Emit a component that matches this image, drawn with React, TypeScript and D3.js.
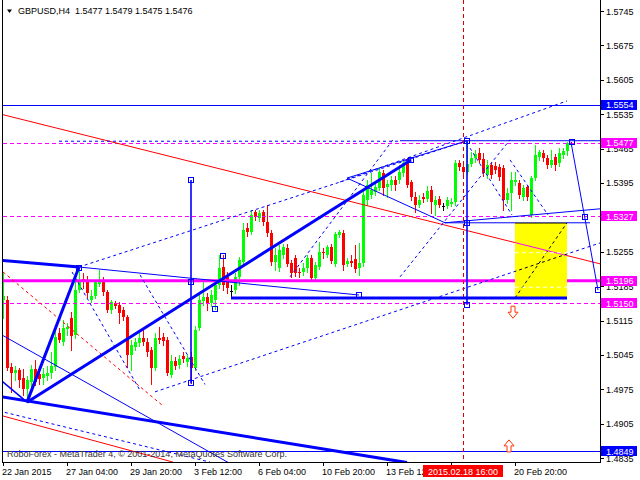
import React from "react";
import * as d3 from "d3";

// ---- Candle data (GBPUSD H4), bar 0 = 22 Jan 2015 12:00 ----
const OPEN = [1.5157,1.5157,1.5021,1.5009,1.5015,1.4999,1.4975,1.4989,1.5017,1.5007,1.4999,1.5003,1.5009,1.5021,1.5090,1.5072,1.5098,1.5120,1.5086,1.5177,1.5200,1.5198,1.5157,1.5165,1.5190,1.5198,1.5173,1.5137,1.5151,1.5147,1.5137,1.5122,1.5045,1.5061,1.5069,1.5080,1.5072,1.5055,1.5019,1.5080,1.5082,1.5076,1.5005,1.5033,1.5025,1.5043,1.5031,1.5041,1.5019,1.5100,1.5155,1.5163,1.5151,1.5157,1.5187,1.5224,1.5204,1.5175,1.5177,1.5204,1.5234,1.5304,1.5295,1.5336,1.5324,1.5336,1.5316,1.5293,1.5234,1.5222,1.5249,1.5263,1.5232,1.5242,1.5214,1.5214,1.5222,1.5242,1.5202,1.5224,1.5255,1.5249,1.5265,1.5230,1.5289,1.5293,1.5230,1.5236,1.5240,1.5222,1.5232,1.5360,1.5371,1.5377,1.5385,1.5415,1.5387,1.5391,1.5401,1.5401,1.5415,1.5438,1.5397,1.5367,1.5350,1.5367,1.5363,1.5381,1.5350,1.5363,1.5348,1.5348,1.5352,1.5356,1.5436,1.5428,1.5417,1.5434,1.5446,1.5456,1.5444,1.5411,1.5432,1.5430,1.5428,1.5426,1.5360,1.5375,1.5397,1.5395,1.5367,1.5387,1.5330,1.5405,1.5448,1.5456,1.5446,1.5432,1.5448,1.5436,1.5452,1.5460,1.5477];
const HIGH = [1.5214,1.5165,1.5029,1.5023,1.5019,1.5017,1.5003,1.5025,1.5035,1.5019,1.5019,1.5023,1.5051,1.5102,1.5100,1.5116,1.5110,1.5132,1.5198,1.5222,1.5212,1.5206,1.5177,1.5198,1.5218,1.5204,1.5177,1.5157,1.5155,1.5153,1.5143,1.5126,1.5076,1.5080,1.5090,1.5100,1.5080,1.5061,1.5090,1.5102,1.5090,1.5082,1.5045,1.5041,1.5045,1.5051,1.5045,1.5051,1.5104,1.5167,1.5194,1.5171,1.5177,1.5194,1.5249,1.5249,1.5214,1.5187,1.5212,1.5244,1.5314,1.5314,1.5340,1.5340,1.5340,1.5340,1.5350,1.5299,1.5263,1.5269,1.5271,1.5271,1.5238,1.5249,1.5222,1.5232,1.5249,1.5249,1.5234,1.5275,1.5263,1.5269,1.5271,1.5295,1.5299,1.5299,1.5242,1.5249,1.5269,1.5273,1.5381,1.5401,1.5415,1.5395,1.5426,1.5422,1.5401,1.5409,1.5409,1.5432,1.5442,1.5446,1.5401,1.5377,1.5371,1.5375,1.5389,1.5389,1.5369,1.5369,1.5354,1.5367,1.5365,1.5442,1.5442,1.5438,1.5481,1.5458,1.5462,1.5466,1.5456,1.5442,1.5438,1.5438,1.5434,1.5432,1.5385,1.5417,1.5417,1.5401,1.5391,1.5391,1.5409,1.5472,1.5462,1.5462,1.5452,1.5462,1.5454,1.5466,1.5466,1.5478,1.5479];
const LOW = [1.5120,1.5015,1.4970,1.4995,1.4979,1.4964,1.4949,1.4975,1.4983,1.4985,1.4985,1.4995,1.4999,1.5015,1.5072,1.5065,1.5086,1.5055,1.5080,1.5173,1.5181,1.5163,1.5153,1.5161,1.5185,1.5167,1.5132,1.5130,1.5141,1.5110,1.5116,1.5021,1.5015,1.5055,1.5063,1.5065,1.5043,1.4985,1.5015,1.5069,1.5065,1.5005,1.5001,1.5017,1.5019,1.5031,1.5023,1.4987,1.5015,1.5096,1.5147,1.5137,1.5145,1.5139,1.5181,1.5177,1.5171,1.5161,1.5171,1.5187,1.5228,1.5287,1.5291,1.5320,1.5318,1.5310,1.5287,1.5228,1.5218,1.5216,1.5242,1.5226,1.5204,1.5206,1.5204,1.5208,1.5214,1.5198,1.5198,1.5220,1.5242,1.5244,1.5232,1.5226,1.5285,1.5218,1.5226,1.5226,1.5214,1.5208,1.5226,1.5350,1.5365,1.5371,1.5381,1.5371,1.5367,1.5381,1.5381,1.5395,1.5409,1.5387,1.5360,1.5336,1.5346,1.5356,1.5358,1.5334,1.5330,1.5346,1.5340,1.5344,1.5348,1.5350,1.5422,1.5411,1.5413,1.5430,1.5438,1.5438,1.5409,1.5405,1.5405,1.5415,1.5401,1.5340,1.5354,1.5340,1.5391,1.5365,1.5360,1.5360,1.5326,1.5401,1.5442,1.5440,1.5426,1.5428,1.5422,1.5430,1.5446,1.5452,1.5475];
const CLOSE = [1.5165,1.5019,1.5009,1.5015,1.4995,1.4975,1.4995,1.5017,1.4989,1.4997,1.5007,1.5009,1.5023,1.5082,1.5076,1.5100,1.5102,1.5084,1.5177,1.5198,1.5194,1.5171,1.5165,1.5194,1.5196,1.5173,1.5137,1.5153,1.5145,1.5130,1.5122,1.5045,1.5065,1.5072,1.5080,1.5072,1.5051,1.5019,1.5080,1.5076,1.5074,1.5009,1.5033,1.5023,1.5037,1.5037,1.5039,1.5019,1.5096,1.5157,1.5163,1.5151,1.5167,1.5187,1.5222,1.5187,1.5181,1.5175,1.5204,1.5238,1.5299,1.5295,1.5330,1.5326,1.5334,1.5316,1.5293,1.5234,1.5249,1.5259,1.5265,1.5230,1.5212,1.5212,1.5212,1.5222,1.5242,1.5202,1.5228,1.5255,1.5253,1.5265,1.5236,1.5291,1.5295,1.5228,1.5236,1.5232,1.5220,1.5232,1.5371,1.5391,1.5381,1.5387,1.5417,1.5385,1.5393,1.5401,1.5391,1.5417,1.5436,1.5391,1.5367,1.5350,1.5360,1.5363,1.5379,1.5356,1.5360,1.5350,1.5348,1.5360,1.5356,1.5436,1.5428,1.5417,1.5434,1.5446,1.5454,1.5442,1.5415,1.5432,1.5411,1.5422,1.5407,1.5360,1.5375,1.5401,1.5401,1.5371,1.5385,1.5367,1.5405,1.5452,1.5458,1.5446,1.5432,1.5442,1.5432,1.5456,1.5460,1.5476,1.5476];

const TITLE = "GBPUSD,H4  1.5477 1.5479 1.5475 1.5476";
const COPYRIGHT = "RoboForex - MetaTrader 4, © 2001-2014, MetaQuotes Software Corp.";

const PRICE_TICKS = [1.5745,1.5675,1.5605,1.5535,1.5465,1.5395,1.5325,1.5255,1.5185,1.5115,1.5045,1.4975,1.4905,1.4835];
const TIME_TICK_BARS = [0,16,32,48,64,80,96,112,128];
const TIME_TICK_LABELS = ["22 Jan 2015","27 Jan 04:00","29 Jan 20:00","3 Feb 12:00","6 Feb 04:00","10 Feb 20:00","13 Feb 12:00","18 Feb 04:00","20 Feb 20:00"];

// horizontal levels
const BLUE_LEVELS = [1.5554, 1.4849];
const MAGENTA_DASH_LEVELS = [1.5477, 1.5327, 1.5150];
const MAGENTA_SOLID_LEVELS = [1.5196];

// vertical cursor
const CURSOR_BAR = 115;
const CURSOR_LABEL = "2015.02.18 16:00";

// segments: [bar1, price1, bar2, price2]
const THICK_BLUE = [
  [-1, 1.5238, 19, 1.5224],
  [19, 1.5224, 6, 1.4949],
  [6, 1.4949, 102, 1.5442],
  [-1, 1.4961, 101, 1.4826],
];
const BASE_LINE = [57, 1.5161, 141, 1.5161];
const MEDIUM_BLUE = [
  [-1, 1.4997, 6, 1.4949],
  [47, 1.5401, 47, 1.4987],
  [116, 1.5481, 116, 1.5147],
];
const THIN_BLUE = [
  [19, 1.5224, 89, 1.5167],
  [-1, 1.5089, 57, 1.4823],
  [86, 1.5405, 116, 1.5481],
  [86, 1.5405, 110.5, 1.5314],
  [110.5, 1.5314, 150, 1.5343],
  [110.5, 1.5314, 146.75, 1.5314],
  [99.25, 1.5481, 150, 1.5481],
  [142, 1.5478, 148.75, 1.5177],
];
const DASHED_BLUE = [
  [19, 1.5224, 116, 1.5481],
  [84.25, 1.5397, 141, 1.5562],
  [-1, 1.4931, 51.75, 1.4827],
  [17.25, 1.5214, 34.25, 1.4973],
  [34.25, 1.5208, 50.5, 1.4985],
  [71.75, 1.5204, 97.5, 1.5483],
  [99.25, 1.5204, 126.75, 1.5483],
  [116.75, 1.5466, 127.25, 1.5330],
  [126.75, 1.5442, 136.25, 1.5330],
  [38, 1.4970, 150, 1.5275],
  [14, 1.5480, 99.25, 1.5480],
  [128, 1.5161, 141, 1.5314],
];
const RED_SOLID = [
  [-1, 1.5536, 150, 1.5229],
  [-1, 1.4923, 42.5, 1.4827],
];
const RED_DASHED = [[0, 1.5214, 39.75, 1.4943]];

const YELLOW_RECT = [128, 1.5314, 141, 1.5161];
const RECT_MARKS = [1.5253, 1.5183];

const ANCHORS = [
  [19, 1.5222], [47, 1.5401], [47, 1.5194], [47, 1.4987], [55, 1.5247], [53, 1.5139],
  [89, 1.5167], [102, 1.5442], [116, 1.5481], [116, 1.5314], [116, 1.5147],
  [142.25, 1.5478], [145.5, 1.5326], [148.75, 1.5177],
];
const ARROW_UP = [126.5, 1.4860];
const ARROW_DOWN = [127.5, 1.5132];

const FONT = "'Liberation Sans', Arial, sans-serif";
const BLUE = "#0000ff";
const MAGENTA = "#ff00ff";
const RED = "#ff0000";

export default function App() {
  const x = d3.scaleLinear().domain([0, 142]).range([3, 571]);
  const y = d3.scaleLinear().domain([1.48272, 1.57674]).range([462, 0]);
  const L = 3, R = 600, B = 462;

  const seg = (s: number[], k: string, stroke: string, w: number, dash?: string) => (
    <line key={k} x1={x(s[0])} y1={y(s[1])} x2={x(s[2])} y2={y(s[3])}
      stroke={stroke} strokeWidth={w} strokeDasharray={dash} />
  );

  const candles = OPEN.map((o, i) => {
    const c = CLOSE[i];
    const cx = Math.round(x(i));
    const doji = Math.abs(o - c) < 0.00005;
    const col = doji ? "#000" : c > o ? "#00ff00" : RED;
    const top = Math.round(y(Math.max(o, c)));
    const bot = Math.round(y(Math.min(o, c)));
    return (
      <g key={"c" + i}>
        <line x1={cx + 0.5} x2={cx + 0.5} y1={Math.round(y(HIGH[i]))} y2={Math.round(y(LOW[i])) + 1} stroke={col} strokeWidth={1} />
        {doji ? (
          <line x1={cx - 1} x2={cx + 2} y1={top + 0.5} y2={top + 0.5} stroke={col} strokeWidth={1} />
        ) : (
          <rect x={cx - 1} y={top} width={3} height={Math.max(1, bot - top)} fill={col} />
        )}
      </g>
    );
  });

  const rx1 = x(YELLOW_RECT[0]), rx2 = x(YELLOW_RECT[2]);
  const ry1 = y(YELLOW_RECT[1]), ry2 = y(YELLOW_RECT[3]);

  const arrowPath = (up: boolean) =>
    up ? "M-2,6 L2,6 L2,0 L5,0 L0,-6 L-5,0 L-2,0 Z" : "M-2,-6 L2,-6 L2,0 L5,0 L0,6 L-5,0 L-2,0 Z";

  const allLevels = [...BLUE_LEVELS, ...MAGENTA_DASH_LEVELS, ...MAGENTA_SOLID_LEVELS];
  // tick labels fully covered by a level box are not visible in the original
  const visibleTicks = PRICE_TICKS.filter((p) => allLevels.every((l) => Math.abs(y(l) - y(p)) > 3));
  const cursorX = x(CURSOR_BAR);
  const visibleTimeIdx = TIME_TICK_BARS.map((b, i) => i).filter((i) => Math.abs(x(TIME_TICK_BARS[i]) - cursorX) > 20);

  const labelBox = (p: number, bg: string, k: string) => (
    <g key={k}>
      <rect x={601} y={Math.round(y(p)) - 5} width={36} height={10} fill={bg} />
      <text x={606} y={y(p) + 3.5} fill="#fff" fontSize={9} fontFamily={FONT}>{p.toFixed(4)}</text>
    </g>
  );

  return (
    <svg width={640} height={480} style={{ position: "fixed", left: 0, top: 0, background: "#fff" }}>
      <defs>
        <clipPath id="plot"><rect x={L} y={0} width={R - L} height={B} /></clipPath>
        <clipPath id="yrect"><rect x={rx1} y={ry1} width={rx2 - rx1} height={ry2 - ry1} /></clipPath>
      </defs>
      <rect x={0} y={0} width={640} height={480} fill="#fff" />
      <g clipPath="url(#plot)">
        {candles}
        {BLUE_LEVELS.map((p, i) => <line key={"bl" + i} x1={L} x2={R} y1={Math.round(y(p)) + 0.5} y2={Math.round(y(p)) + 0.5} stroke={BLUE} strokeWidth={1} />)}
        {MAGENTA_DASH_LEVELS.map((p, i) => <line key={"md" + i} x1={L} x2={R} y1={Math.round(y(p)) + 0.5} y2={Math.round(y(p)) + 0.5} stroke={MAGENTA} strokeWidth={1} strokeDasharray="4,3" />)}
        {MAGENTA_SOLID_LEVELS.map((p, i) => <line key={"ms" + i} x1={L} x2={R} y1={y(p)} y2={y(p)} stroke={MAGENTA} strokeWidth={3} />)}
        {RED_SOLID.map((s, i) => seg(s, "rs" + i, RED, 1))}
        {RED_DASHED.map((s, i) => seg(s, "rd" + i, RED, 1, "3,3"))}
        {DASHED_BLUE.map((s, i) => seg(s, "db" + i, BLUE, 1, "3,3"))}
        {THIN_BLUE.map((s, i) => seg(s, "tb" + i, BLUE, 1))}
        {MEDIUM_BLUE.map((s, i) => seg(s, "mb" + i, BLUE, 1.6))}
        {THICK_BLUE.map((s, i) => seg(s, "kb" + i, BLUE, 3))}
        <line x1={Math.round(cursorX) + 0.5} x2={Math.round(cursorX) + 0.5} y1={0} y2={B} stroke="#e00000" strokeWidth={1} strokeDasharray="4,3" />
        <rect x={rx1} y={ry1} width={rx2 - rx1} height={ry2 - ry1} fill="#ffff00" />
        <g clipPath="url(#yrect)">
          {RED_SOLID.map((s, i) => seg(s, "rsy" + i, MAGENTA, 1))}
          {DASHED_BLUE.map((s, i) => seg(s, "dby" + i, "#000", 1, "3,3"))}
          {THIN_BLUE.map((s, i) => seg(s, "tby" + i, "#000", 1.5))}
          {RECT_MARKS.map((p, i) => <line key={"rm" + i} x1={rx1} x2={rx2} y1={y(p)} y2={y(p)} stroke="#fff" strokeWidth={1} strokeDasharray="4,3" />)}
        </g>
        {seg(BASE_LINE, "base", BLUE, 3)}
        {ANCHORS.map((a, i) => (
          <rect key={"a" + i} x={Math.round(x(a[0])) - 2.5} y={Math.round(y(a[1])) - 2.5} width={5} height={5} fill="none" stroke={BLUE} strokeWidth={1} />
        ))}
        <path d={arrowPath(true)} transform={`translate(${x(ARROW_UP[0])},${y(ARROW_UP[1])})`} fill="#fff" stroke="#ff3300" strokeWidth={1} />
        <path d={arrowPath(false)} transform={`translate(${x(ARROW_DOWN[0])},${y(ARROW_DOWN[1])})`} fill="#fff" stroke="#ff3300" strokeWidth={1} />
        <text x={7} y={457} fontSize={9} fontFamily={FONT} fill="#333">{COPYRIGHT}</text>
        <path d="M7,9.5 L12,9.5 L9.5,13 Z" fill="#000" />
        <text x={18} y={14} fontSize={9} fontFamily={FONT} fill="#000" style={{ whiteSpace: "pre" }}>{TITLE}</text>
      </g>
      {/* frame */}
      <line x1={2.5} x2={2.5} y1={0} y2={B + 1} stroke="#000" strokeWidth={1} />
      <line x1={2} x2={R + 1} y1={B + 0.5} y2={B + 0.5} stroke="#000" strokeWidth={1} />
      <line x1={R + 0.5} x2={R + 0.5} y1={0} y2={B + 1} stroke="#000" strokeWidth={1} />
      {/* price axis */}
      {PRICE_TICKS.map((p, i) => (
        <line key={"ptl" + i} x1={R + 1} x2={R + 4} y1={Math.round(y(p)) + 0.5} y2={Math.round(y(p)) + 0.5} stroke="#000" />
      ))}
      {visibleTicks.map((p, i) => (
        <text key={"ptt" + i} x={606} y={y(p) + 3.5} fontSize={9} fontFamily={FONT} fill="#000">{p.toFixed(4)}</text>
      ))}
      {/* time axis */}
      {TIME_TICK_BARS.map((b, i) => (
        <line key={"ttl" + i} x1={Math.round(x(b)) + 0.5} x2={Math.round(x(b)) + 0.5} y1={B + 1} y2={B + 4} stroke="#000" />
      ))}
      {visibleTimeIdx.map((i) => (
        <text key={"ttt" + i} x={x(TIME_TICK_BARS[i]) - 1} y={475} fontSize={9} fontFamily={FONT} fill="#000">{TIME_TICK_LABELS[i]}</text>
      ))}
      <rect x={cursorX - 40} y={465} width={80} height={12} fill="#ff0000" />
      <text x={cursorX} y={475} textAnchor="middle" fontSize={9} fontFamily={FONT} fill="#fff">{CURSOR_LABEL}</text>
      {BLUE_LEVELS.map((p, i) => labelBox(p, BLUE, "blb" + i))}
      {MAGENTA_DASH_LEVELS.map((p, i) => labelBox(p, MAGENTA, "mdb" + i))}
      {MAGENTA_SOLID_LEVELS.map((p, i) => labelBox(p, MAGENTA, "msb" + i))}
    </svg>
  );
}
